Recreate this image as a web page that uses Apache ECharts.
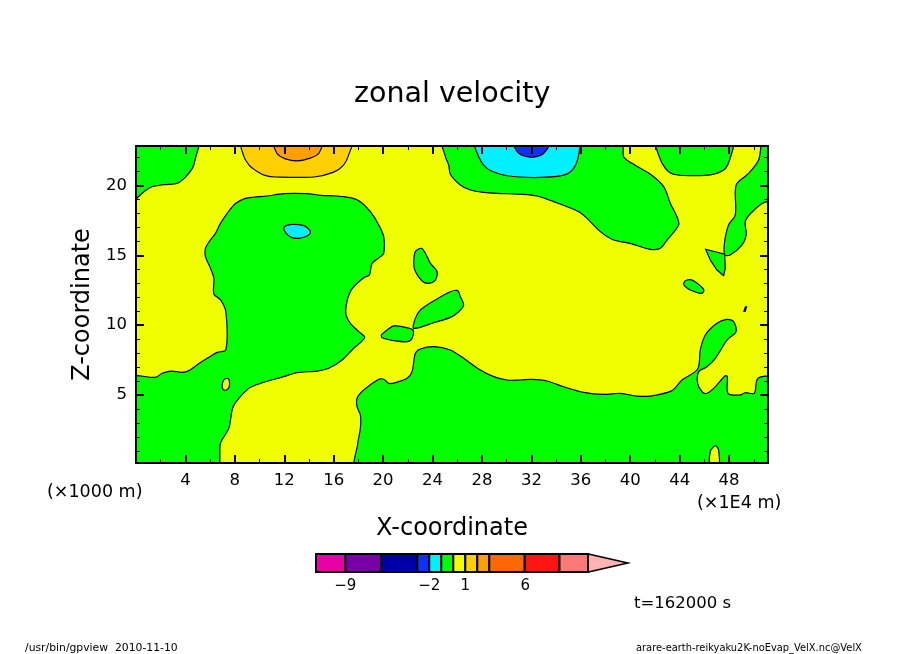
<!DOCTYPE html>
<html>
<head>
<meta charset="utf-8">
<title>zonal velocity</title>
<style>html,body{margin:0;padding:0;background:#fff}#chart{width:904px;height:654px}</style>
<script src="https://cdn.jsdelivr.net/npm/echarts@6/dist/echarts.min.js"></script>
</head>
<body>
<div id="chart"></div>
<script>
// axis ticks (x in 1E4 m, z in 1000 m)
var xMajor = [4, 8, 12, 16, 20, 24, 28, 32, 36, 40, 44, 48];
var xMinor = [2, 6, 10, 14, 18, 22, 26, 30, 34, 38, 42, 46, 50];
var zMajor = [5, 10, 15, 20];
var zMinor = [1, 2, 3, 4, 6, 7, 8, 9, 11, 12, 13, 14, 16, 17, 18, 19, 21, 22];

// contour outlines, [x, z]. outlines that reach the frame run past it and get clipped
var greenTopLeft = [[-0.5,23.3],[5,23.3],[4.8,21.9],[4.55,21.2],[4,20.6],[3.35,20.15],[2.25,20.05],[1.3,19.9],[0.65,19.55],[-0.5,18.8]];
var goldTop = [[8.55,23.3],[8.7,22.15],[9.15,21.45],[9.8,21],[10.5,20.7],[11.3,20.6],[14.4,20.6],[16,20.95],[16.8,21.45],[17.2,22.15],[17.45,23.3]];
var orangeTop = [[11.2,23.3],[11.4,22.3],[12.1,21.9],[13.05,21.75],[14.1,21.95],[14.8,22.3],[15.05,23.3]];
var greenLeft = [[-0.5,6.2],[1.58,6.26],[2.12,6.55],[2.79,6.71],[3.74,6.62],[4.27,6.74],[5.22,7.33],[5.89,7.69],[6.57,8.05],[7.27,8.22],[7.27,10.96],[6.84,11.8],[6.3,12.23],[6.3,13.35],[6.03,14.06],[5.62,14.9],[5.62,15.5],[5.89,15.93],[6.43,16.57],[6.84,17.28],[7.38,18],[8.05,18.71],[8.86,19.07],[9.53,19.15],[10.61,19.24],[11.96,19.41],[13.85,19.41],[14.93,19.29],[16.28,19.24],[17.35,19.12],[18.16,18.83],[18.97,18.12],[19.65,17.17],[20.05,16.33],[20.05,15.14],[19.78,14.9],[19.11,14.42],[18.89,13.59],[18.43,13.39],[17.62,12.75],[17.22,12.15],[17,11.32],[17,10.72],[17.35,10.13],[18.03,9.53],[18.51,9.1],[17.62,8.34],[16.68,7.5],[15.6,6.91],[14.66,6.71],[13.04,6.6],[11.96,6.31],[10.07,5.83],[9.13,5.47],[8.05,4.45],[7.78,3.92],[7.51,2.61],[6.84,1.54],[6.5,-0.3],[-0.5,-0.3]];
var cyanSpot = [[11.96,16.93],[12.15,17.12],[12.77,17.21],[13.58,17.12],[13.98,16.88],[14.12,16.62],[13.85,16.38],[13.17,16.21],[12.63,16.26],[12.15,16.57]];
var greenBlobA = [[22.48,14.42],[22.61,15.26],[23.1,15.5],[23.42,15.14],[23.83,14.42],[24.37,13.83],[24.23,13.23],[23.69,12.99],[23.15,13.16],[22.61,13.83]];
var greenBlobB = [[22.48,9.77],[22.61,10.48],[23.02,11.08],[24.23,11.8],[25.44,12.39],[26.04,12.47],[26.25,12.03],[26.52,11.44],[26.12,10.96],[25.44,10.55],[24.1,10.17]];
var greenBlobC = [[19.86,9.29],[20.32,9.65],[20.86,9.94],[21.53,9.89],[22.42,9.65],[22.34,9.05],[21.94,8.81],[20.86,8.89],[19.92,9.1]];
var yellowHoleA = [[6.97,5.71],[7.11,6.07],[7.38,6.19],[7.54,6.07],[7.54,5.59],[7.32,5.35],[7.05,5.4]];
var greenBottom = [[17.89,-0.3],[17.95,1.54],[18.16,2.61],[18.16,3.56],[17.89,4.16],[17.89,4.76],[18.43,5.35],[19.65,6.12],[20.05,6.12],[20.46,5.83],[21,5.88],[21.94,6.19],[22.34,6.66],[22.61,7.98],[23.02,8.29],[24.1,8.46],[25.44,8.22],[26.52,7.62],[27.87,6.79],[28.95,6.31],[30.03,6.07],[31.11,6.07],[32.05,6.12],[33.26,6],[34.61,5.59],[36.23,5.19],[37.85,5.04],[39.2,5.12],[40.55,4.92],[41.62,4.92],[43.38,5.31],[44.19,6.07],[45.46,6.86],[45.67,8.22],[46.08,9.29],[47.02,10.13],[47.83,10.41],[48.37,10.25],[48.56,9.53],[47.83,8.93],[46.89,7.62],[46.21,7.02],[45.54,6.67],[45.46,5.83],[45.81,5.23],[46.21,5.12],[46.75,5.47],[47.69,6.38],[47.86,6.31],[47.91,5.12],[48.91,5],[49.31,5.16],[50.04,5.12],[50.25,6.07],[50.66,6.31],[51.6,6.24],[51.6,-0.3]];
var yellowHoleB = [[46.48,-0.3],[46.48,0.94],[46.89,1.37],[47.15,1.06],[47.15,-0.3]];
var greenTopMid = [[24.85,23.3],[25.04,22.06],[25.31,21.46],[25.44,20.8],[26.25,20.03],[27.06,19.67],[28.14,19.5],[29.22,19.43],[31.24,19.36],[32.46,19.24],[33.8,18.84],[35.83,18.12],[36.5,17.64],[37.58,16.69],[38.66,16.09],[40,15.85],[41.63,15.42],[42.44,15.5],[42.98,16.09],[43.92,17.17],[43.78,17.76],[43.25,18.71],[42.71,19.91],[41.63,20.8],[40.14,21.58],[39.47,22.05],[39.25,23.3]];
var cyanTop = [[27.45,23.3],[27.74,22.05],[28.41,21.22],[29.5,20.8],[30.7,20.62],[32.73,20.57],[34.61,20.73],[35.42,21.22],[35.82,22.17],[35.82,23.3]];
var blueTop = [[30.5,23.3],[30.98,22.3],[32.05,22.01],[33,22.3],[33.55,23.3]];
var greenTopRight = [[42.12,23.3],[42.3,22.17],[42.84,21.22],[43.51,20.8],[44.86,20.7],[46.48,20.75],[47.56,21.1],[48.04,21.82],[48.26,23.3]];
var greenRight = [[50.75,23.3],[50.39,21.82],[49.58,20.86],[48.64,20.14],[48.5,19.55],[48.5,17.88],[47.96,17.17],[47.64,15.97],[47.64,15.02],[48.09,15.02],[49.04,15.73],[49.39,16.45],[49.31,17.4],[49.72,17.97],[50.66,18.71],[51.6,19.1],[51.6,23.3]];
var greenWedge = [[46.1,15.43],[47.64,15.07],[47.69,14.06],[47.56,13.54],[47.02,13.94],[46.48,14.66]];
var greenBlobD = [[44.32,12.99],[44.59,13.23],[45.13,13.18],[45.89,12.63],[45.94,12.39],[45.67,12.27],[44.86,12.51],[44.46,12.75]];
var greenSliver = [[49.2,10.98],[49.32,11.3],[49.42,11.3],[49.3,10.98]];

// colour bar: levels and the colours between them
var barLevels = [-11.44, -9, -6, -3, -2, -1, 0, 1, 2, 3, 5.95, 8.85, 11.25];
var barColors = ['#e800a8', '#7800a8', '#0000a8', '#1030ff', '#00f0ff', '#00ff00', '#f0ff00', '#ffd000', '#ff9f00', '#ff6800', '#ff1414', '#ff7878'];
var barLabels = [-9, -2, 1, 6];
var tipColor = '#ffb4b4';
var tipEnd = 14.56;

var GREEN = '#00ff00', YELLOW = '#f0ff00', CYAN = '#00f0ff';
// third entry: keep the corners sharp
var regions = [
    [greenTopLeft, GREEN], [goldTop, '#ffd000'], [orangeTop, '#ff9f00'],
    [greenLeft, GREEN], [cyanSpot, CYAN], [greenBlobA, GREEN], [greenBlobB, GREEN], [greenBlobC, GREEN],
    [yellowHoleA, YELLOW], [greenBottom, GREEN], [yellowHoleB, YELLOW],
    [greenTopMid, GREEN], [cyanTop, CYAN], [blueTop, '#1030ff'],
    [greenTopRight, GREEN], [greenRight, GREEN], [greenWedge, GREEN, true], [greenBlobD, GREEN], [greenSliver, GREEN, true]
];

var FONT = 'DejaVu Sans';

function frameAxis(pos, gridIndex, range, values, len, width, labels) {
    return {
        type: 'value', position: pos, gridIndex: gridIndex, min: range[0], max: range[1], z: 10,
        splitLine: {show: false},
        axisLine: {show: true, onZero: false, lineStyle: {color: '#000', width: 2}},
        axisTick: {show: true, inside: true, length: len, customValues: values, lineStyle: {color: '#000', width: width}},
        axisLabel: labels ? {show: true, customValues: values, fontFamily: FONT, fontSize: 16.5, color: '#000', margin: 9} : {show: false}
    };
}

function note(text, left, top, size) {
    return {text: text, left: left, top: top, padding: 0, textStyle: {fontFamily: FONT, fontSize: size, fontWeight: 'normal', color: '#000'}};
}

var xRange = [0, 51.15], zRange = [0.13, 22.82];

var xBottom = frameAxis('bottom', 0, xRange, xMajor, 8, 2, true);
xBottom.name = 'X-coordinate';
xBottom.nameLocation = 'middle';
xBottom.nameGap = 54;
xBottom.nameTextStyle = {fontFamily: FONT, fontSize: 24, color: '#000'};

var zLeft = frameAxis('left', 0, zRange, zMajor, 8, 2, true);
zLeft.name = 'Z-coordinate';
zLeft.nameLocation = 'middle';
zLeft.nameGap = 40;
zLeft.nameTextStyle = {fontFamily: FONT, fontSize: 24, color: '#000'};

var barAxisX = {
    type: 'value', gridIndex: 1, min: barLevels[0], max: tipEnd, position: 'bottom',
    splitLine: {show: false}, axisLine: {show: false}, axisTick: {show: false},
    axisLabel: {customValues: barLabels, fontFamily: FONT, fontSize: 15, color: '#000', margin: 7,
        formatter: function (v) { return String(v).replace('-', '\u2212'); }}
};
var barAxisY = {type: 'value', gridIndex: 1, min: 0, max: 1, show: false};

var option = {
    animation: false,
    backgroundColor: '#fff',
    title: [
        note('zonal velocity', 354, 80, 28.5),
        note('(\u00d71000 m)', 47, 483, 17.5),
        note('(\u00d71E4 m)', 697, 494, 17.5),
        note('t=162000 s', 634, 595, 16.5),
        note('/usr/bin/gpview  2010-11-10', 25, 643, 10.8),
        note('arare-earth-reikyaku2K-noEvap_VelX.nc@VelX', 636, 643, 9.9)
    ],
    grid: [
        {left: 136, top: 146, width: 632, height: 317, show: true, backgroundColor: YELLOW, borderWidth: 0},
        {left: 316, top: 554, width: 312, height: 18}
    ],
    xAxis: [
        xBottom,
        frameAxis('top', 0, xRange, xMajor, 8, 2, false),
        frameAxis('bottom', 0, xRange, xMinor, 4, 1, false),
        frameAxis('top', 0, xRange, xMinor, 4, 1, false),
        barAxisX
    ],
    yAxis: [
        zLeft,
        frameAxis('right', 0, zRange, zMajor, 8, 2, false),
        frameAxis('left', 0, zRange, zMinor, 4, 1, false),
        frameAxis('right', 0, zRange, zMinor, 4, 1, false),
        barAxisY
    ],
    series: [
        {
            type: 'custom', xAxisIndex: 0, yAxisIndex: 0, clip: true, silent: true,
            data: regions.map(function (r, i) { return [i]; }),
            renderItem: function (params, api) {
                var r = regions[api.value(0)];
                return {
                    type: 'polygon',
                    shape: {points: r[0].map(function (p) { return api.coord(p); }), smooth: r[2] ? 0 : 0.3},
                    style: {fill: r[1], stroke: '#000', lineWidth: 1.2}
                };
            }
        },
        {
            type: 'custom', xAxisIndex: 4, yAxisIndex: 4, silent: true,
            data: barColors.map(function (c, i) { return [i]; }),
            renderItem: function (params, api) {
                var i = api.value(0);
                var a = api.coord([barLevels[i], 1]), b = api.coord([barLevels[i + 1], 0]);
                return {
                    type: 'rect',
                    shape: {x: a[0], y: a[1], width: b[0] - a[0], height: b[1] - a[1]},
                    style: {fill: barColors[i], stroke: '#000', lineWidth: 2}
                };
            }
        },
        {
            type: 'custom', xAxisIndex: 4, yAxisIndex: 4, silent: true,
            data: [[0]],
            renderItem: function (params, api) {
                var last = barLevels[barLevels.length - 1];
                return {
                    type: 'polygon',
                    shape: {points: [api.coord([last, 1]), api.coord([tipEnd, 0.5]), api.coord([last, 0])]},
                    style: {fill: tipColor, stroke: '#000', lineWidth: 1.5}
                };
            }
        }
    ]
};

var myChart = echarts.init(document.getElementById('chart'));
myChart.setOption(option);
</script>
</body>
</html>
